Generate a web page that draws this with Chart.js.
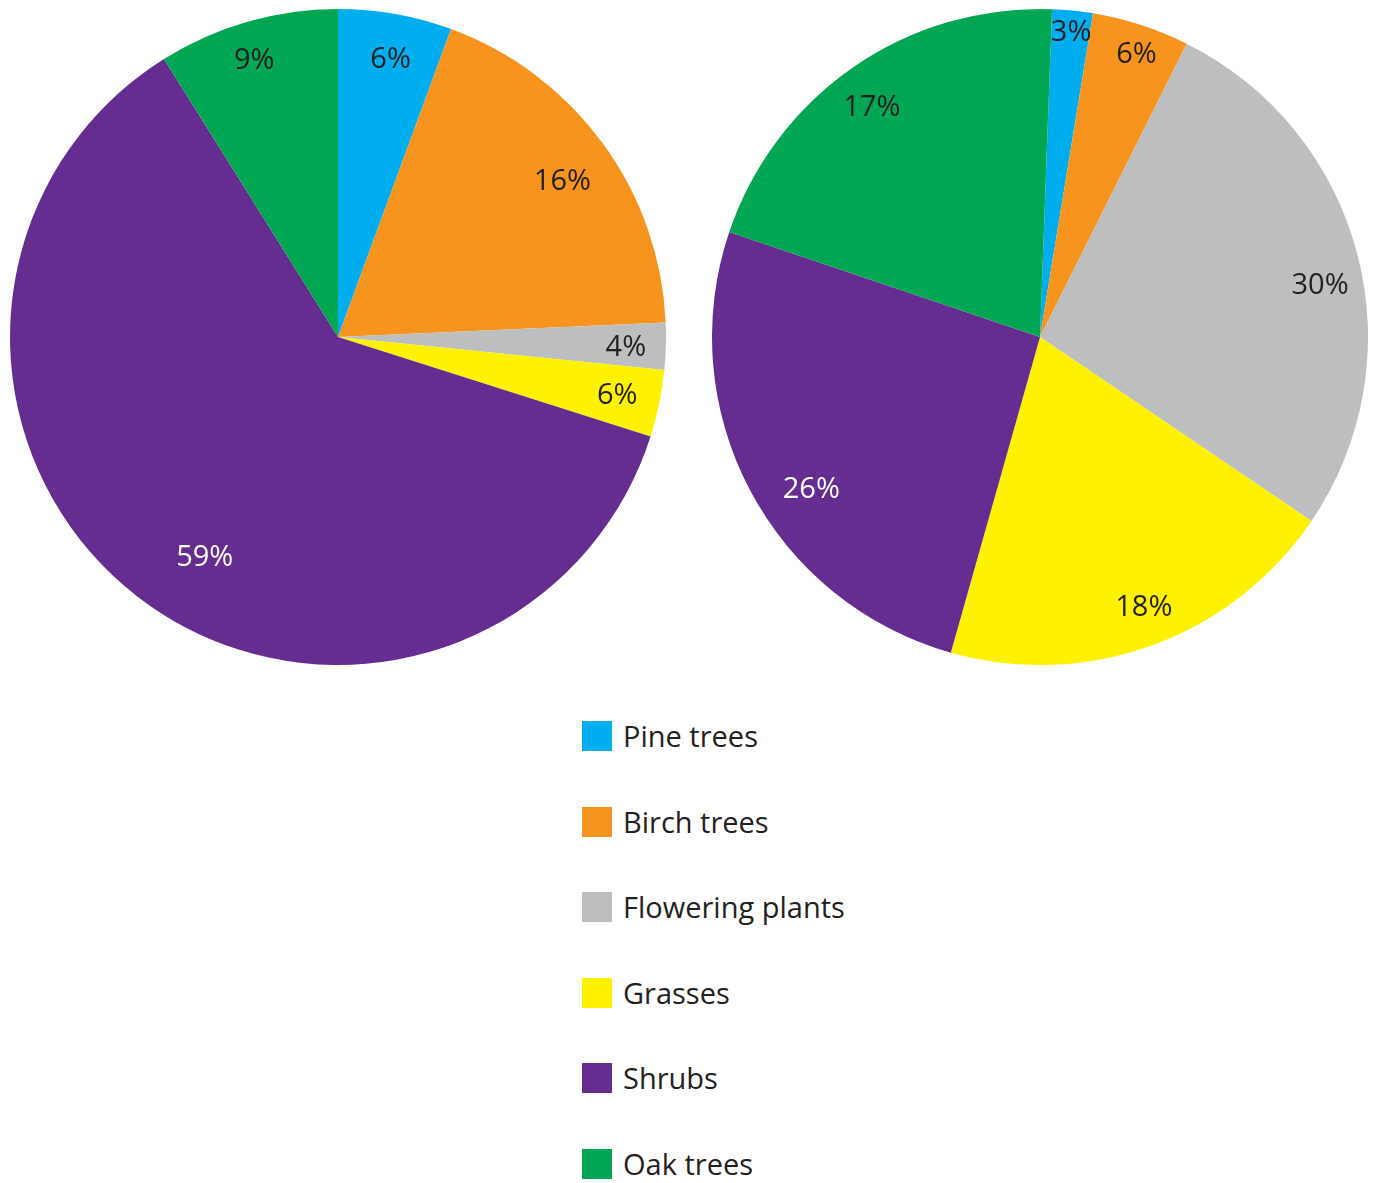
<!DOCTYPE html>
<html>
<head>
<meta charset="utf-8">
<script src="https://cdn.jsdelivr.net/npm/chart.js@4.4.1/dist/chart.umd.min.js"></script>
<style>
  body { margin: 0; background: #fff; width: 1378px; height: 1183px; position: relative; overflow: hidden; font-family: 'Open Sans', sans-serif; }
  .pie { position: absolute; top: 9px; width: 656px; height: 656px; }
  #leftPie { left: 9.5px; }
  #rightPie { left: 712px; }
  .item { position: absolute; left: 582px; height: 30px; display: flex; align-items: center; }
  .item span.box { width: 30px; height: 30px; display: inline-block; }
  .item span.txt { margin-left: 11px; font-size: 29px; line-height: 30px; color: #231f20; white-space: nowrap; }
</style>
</head>
<body>
<div class="pie" id="leftPie"><canvas id="leftChart"></canvas></div>
<div class="pie" id="rightPie"><canvas id="rightChart"></canvas></div>
<div id="legend"></div>
<script>
// categories and colours
const categories = ['Pine trees', 'Birch trees', 'Flowering plants', 'Grasses', 'Shrubs', 'Oak trees'];
const colors = ['#00aeef', '#f7941d', '#bcbec0', '#fff200', '#662d91', '#00a651'];

// slice sizes as drawn (percent of the circle) and the printed labels
const leftShares = [5.6, 18.7, 2.3, 3.3, 61.2, 8.9];
const leftLabels = ['6%', '16%', '4%', '6%', '59%', '9%'];
const rightShares = [2.0, 4.8, 27.1, 19.9, 25.8, 20.4];
const rightLabels = ['3%', '6%', '30%', '18%', '26%', '17%'];

const labelColors = ['#231f20', '#231f20', '#231f20', '#231f20', '#ffffff', '#231f20'];

// draws the % text inside each slice
// nudge = [degrees off the slice middle, fraction of the radius]
const pctLabels = {
  id: 'pctLabels',
  afterDatasetsDraw(chart, args, opts) {
    const ctx = chart.ctx;
    const meta = chart.getDatasetMeta(0);
    const size = 29;
    ctx.save();
    ctx.font = size + 'px "Open Sans"';
    ctx.textAlign = 'center';
    ctx.textBaseline = 'alphabetic';
    meta.data.forEach((arc, i) => {
      const p = arc.getProps(['x', 'y', 'startAngle', 'endAngle', 'outerRadius'], true);
      const a = (p.startAngle + p.endAngle) / 2 + opts.nudge[i][0] * Math.PI / 180;
      const r = p.outerRadius * opts.nudge[i][1];
      ctx.fillStyle = labelColors[i];
      ctx.fillText(opts.texts[i], p.x + Math.cos(a) * r, p.y + Math.sin(a) * r + size * 0.357);
    });
    ctx.restore();
  }
};

function makePie(id, shares, texts, rotation, nudge) {
  return new Chart(document.getElementById(id), {
    type: 'pie',
    data: {
      labels: categories,
      datasets: [{
        data: shares,
        backgroundColor: colors,
        borderWidth: 0
      }]
    },
    options: {
      responsive: true,
      maintainAspectRatio: false,
      animation: false,
      events: [],
      rotation: rotation,
      layout: { padding: 0 },
      plugins: {
        legend: { display: false },
        tooltip: { enabled: false },
        pctLabels: { texts: texts, nudge: nudge }
      }
    },
    plugins: [pctLabels]
  });
}

makePie('leftChart', leftShares, leftLabels, 0,
  [[0.6, 0.866], [1.2, 0.835], [0.2, 0.878], [-0.2, 0.869], [-6.4, 0.78], [-0.7, 0.887]]);
makePie('rightChart', rightShares, rightLabels, 2.1,
  [[0.1, 0.939], [0.8, 0.915], [3.9, 0.869], [-1.1, 0.878], [-5.6, 0.835], [-1.4, 0.872]]);

// legend below the pies
const legend = document.getElementById('legend');
categories.forEach((name, i) => {
  const item = document.createElement('div');
  item.className = 'item';
  item.style.top = (721 + i * 85.6) + 'px';
  item.innerHTML = `<span class="box" style="background:${colors[i]}"></span><span class="txt">${name}</span>`;
  legend.appendChild(item);
});
</script>
</body>
</html>
